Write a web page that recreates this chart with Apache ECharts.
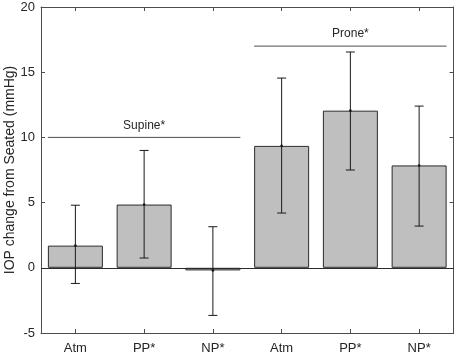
<!DOCTYPE html>
<html>
<head>
<meta charset="utf-8">
<script src="https://cdn.jsdelivr.net/npm/echarts@6/dist/echarts.min.js"></script>
<style>
  html, body { margin: 0; padding: 0; background: #fff; }
  #chart { width: 457px; height: 355px; }
</style>
</head>
<body>
<div id="chart"></div>
<script>
  // 数据
  var categories = ['Atm', 'PP*', 'NP*', 'Atm', 'PP*', 'NP*']
  var means = [1.7, 4.85, -0.2, 9.35, 12.05, 7.85]
  var errLow = [-1.2, 0.75, -3.65, 4.2, 7.5, 3.2]
  var errHigh = [4.8, 9.0, 3.15, 14.55, 16.55, 12.4]
  var groupNames = ['Supine*', 'Prone*']
  var groupStart = [0, 3]
  var groupEnd = [2, 5]
  var groupLevel = [10, 17]
  var yTicks = [-5, 0, 5, 10, 15, 20]

  var font = "'Liberation Sans', Arial, sans-serif"
  var textColor = '#262626'
  var axisColor = '#4d4d4d'

  var errData = categories.map(function (c, i) {
    return [i, errLow[i], errHigh[i], means[i]]
  })
  var groupData = groupNames.map(function (n, i) {
    return [groupStart[i], groupEnd[i], groupLevel[i], n]
  })

  var chart = echarts.init(document.getElementById('chart'))

  function xAxisOf (pos, showLabel) {
    return {
      type: 'category',
      position: pos,
      data: categories,
      axisLine: { show: true, onZero: false, lineStyle: { color: axisColor, width: 1 } },
      axisTick: { show: true, inside: true, alignWithLabel: true, length: 4, lineStyle: { color: axisColor } },
      axisLabel: { show: showLabel, margin: 9, fontSize: 13, color: textColor, fontFamily: font },
      splitLine: { show: false }
    }
  }

  function yAxisOf (pos, showLabel) {
    return {
      type: 'value',
      position: pos,
      min: yTicks[0],
      max: yTicks[yTicks.length - 1],
      interval: 5,
      name: showLabel ? 'IOP change from Seated (mmHg)' : '',
      nameLocation: 'middle',
      nameGap: 24,
      nameMoveOverlap: false,
      nameTextStyle: { fontSize: 14, color: textColor, fontFamily: font },
      axisLine: { show: true, onZero: false, lineStyle: { color: axisColor, width: 1 } },
      axisTick: { show: true, inside: true, length: 4, lineStyle: { color: axisColor } },
      axisLabel: { show: showLabel, margin: 6, fontSize: 13, color: textColor, fontFamily: font },
      splitLine: { show: false }
    }
  }

  chart.setOption({
    animation: false,
    backgroundColor: '#fff',
    grid: { left: 41, right: 3.5, top: 7, bottom: 22, containLabel: false, outerBoundsMode: 'none' },
    xAxis: [xAxisOf('bottom', true), xAxisOf('top', false)],
    yAxis: [yAxisOf('left', true), yAxisOf('right', false)],
    series: [
      {
        name: 'mean',
        type: 'bar',
        barWidth: '80%',
        data: means,
        itemStyle: { color: '#bfbfbf', borderColor: '#2b2b2b', borderWidth: 1 },
        markLine: {
          silent: true,
          symbol: 'none',
          label: { show: false },
          lineStyle: { color: '#2b2b2b', width: 1, type: 'solid' },
          data: [{ yAxis: 0 }]
        }
      },
      {
        // 误差线
        name: 'error',
        type: 'custom',
        data: errData,
        z: 10,
        renderItem: function (params, api) {
          var x = api.value(0)
          var lo = api.coord([x, api.value(1)])
          var hi = api.coord([x, api.value(2)])
          var mid = api.coord([x, api.value(3)])
          var cap = 4.5
          var style = { stroke: '#1a1a1a', lineWidth: 1 }
          return {
            type: 'group',
            children: [
              { type: 'line', shape: { x1: lo[0], y1: lo[1], x2: hi[0], y2: hi[1] }, style: style },
              { type: 'line', shape: { x1: lo[0] - cap, y1: lo[1], x2: lo[0] + cap, y2: lo[1] }, style: style },
              { type: 'line', shape: { x1: hi[0] - cap, y1: hi[1], x2: hi[0] + cap, y2: hi[1] }, style: style },
              { type: 'circle', shape: { cx: mid[0], cy: mid[1], r: 1.3 }, style: { fill: '#1a1a1a' } }
            ]
          }
        }
      },
      {
        // 分组标注
        name: 'group',
        type: 'custom',
        data: groupData,
        z: 10,
        renderItem: function (params, api) {
          var band = api.size([1, 0])[0]
          var y = api.value(2)
          var p0 = api.coord([api.value(0), y])
          var p1 = api.coord([api.value(1), y])
          var x0 = p0[0] - band * 0.4
          var x1 = p1[0] + band * 0.4
          return {
            type: 'group',
            children: [
              { type: 'line', shape: { x1: x0, y1: p0[1], x2: x1, y2: p0[1] }, style: { stroke: '#4d4d4d', lineWidth: 1 } },
              {
                type: 'text',
                style: {
                  x: (x0 + x1) / 2,
                  y: p0[1] - 6,
                  text: groupNames[params.dataIndex],
                  fill: textColor,
                  font: '12px ' + font,
                  align: 'center',
                  verticalAlign: 'bottom'
                }
              }
            ]
          }
        }
      }
    ]
  })
</script>
</body>
</html>
